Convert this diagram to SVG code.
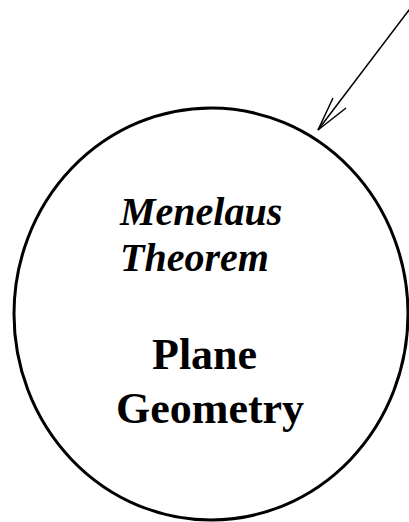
<svg xmlns="http://www.w3.org/2000/svg" width="409" height="522" viewBox="0 0 409 522">
<style>
.node{fill:none;stroke:#000;stroke-width:3}
.edge{fill:none;stroke:#000;stroke-width:1.5}
.it{font-family:"Liberation Serif",serif;font-style:italic;font-weight:bold;font-size:40px;fill:#000}
.bd{font-family:"Liberation Serif",serif;font-weight:bold;font-size:44px;fill:#000}
</style>
<rect width="409" height="522" fill="#fff"/>
<g id="connectors">
<line class="edge" x1="412" y1="6" x2="318" y2="130"/>
<polyline class="edge" points="333,98 318,130 346,108"/>
</g>
<g id="node-plane-geometry">
<ellipse class="node" cx="211" cy="314" rx="197" ry="206"/>
<text class="it" x="120" y="225">Menelaus</text>
<text class="it" x="120" y="271">Theorem</text>
<text class="bd" x="152" y="369">Plane</text>
<text class="bd" x="116" y="423">Geometry</text>
</g>
</svg>
